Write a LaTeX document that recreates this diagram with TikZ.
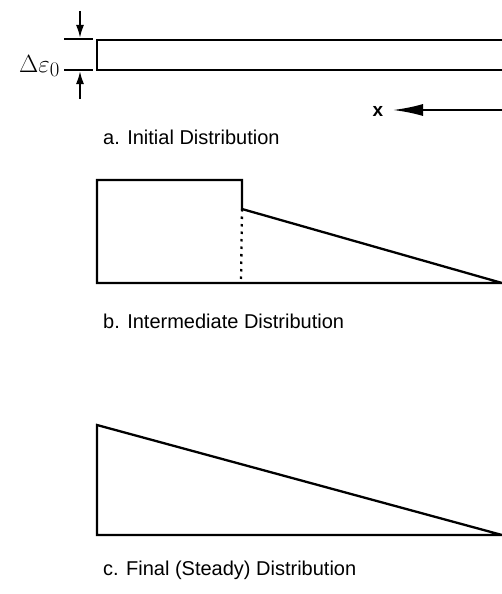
\documentclass[tikz,border=0pt]{standalone}
\usepackage{fontspec}
\setmainfont{Liberation Sans}
\usetikzlibrary{arrows.meta}
\begin{document}
\begin{tikzpicture}[x=1pt,y=-1pt,
  prof/.style={line width=2.3pt,line join=miter},
  thinln/.style={line width=1.8pt},
  dimarrow/.style={line width=2pt,-{Latex[length=13pt,width=8pt]}},
  captxt/.style={anchor=base west,font=\fontsize{20}{24}\selectfont,inner sep=0pt}]
\useasboundingbox (0,0) rectangle (502,594);
% a. initial strip
\coordinate (aTR) at (502,40);
\coordinate (aBR) at (502,70);
\draw[thinln] (aTR) -- (97,40) coordinate (aTL) -- (97,70) coordinate (aBL) -- (aBR);
% dimension
\coordinate (t1L) at (64,39); \coordinate (t1R) at (93,39);
\coordinate (t2L) at (64,70); \coordinate (t2R) at (93,70);
\draw[thinln] (t1L) -- (t1R);
\draw[thinln] (t2L) -- (t2R);
\coordinate (up0) at (80,11); \coordinate (up1) at (80,38);
\coordinate (dn0) at (80,99); \coordinate (dn1) at (80,71);
\draw[dimarrow] (up0) -- (up1);
\draw[dimarrow] (dn0) -- (dn1);
\node[inner sep=0pt,anchor=base east,font=\fontsize{29}{32}\selectfont] (deps) at (60,72) {$\Delta\varepsilon_0$};
% x arrow
\coordinate (xs) at (502,110);
\node[inner sep=0pt,font=\fontsize{19}{20}\selectfont\bfseries] (xl) at (378,111) {x};
\coordinate (xe) at (393,110);
\draw[line width=2pt,-{Latex[length=30pt,width=12pt]}] (xs) -- (xe);
\node[captxt] (la) at (103,144) {a. Initial Distribution};
% b. intermediate
\coordinate (bBL) at (97,283);
\coordinate (bTL) at (97,180);
\coordinate (bTR) at (242,180);
\coordinate (bS) at (242,209);
\coordinate (bBR) at (502,283);
\coordinate (bD) at (241,283);
\draw[prof] (bBR) -- (bBL) -- (bTL) -- (bTR) -- (bS) -- (bBR);
\draw[line width=2.3pt,dash pattern=on 2.5pt off 5pt] (bS) -- (bD);
\node[captxt] (lb) at (103,328) {b. Intermediate Distribution};
% c. final
\coordinate (cT) at (97,425);
\coordinate (cBL) at (97,535);
\coordinate (cBR) at (502,535);
\draw[prof] (cBR) -- (cBL) -- (cT) -- (cBR);
\node[captxt] (lc) at (103,575) {c. Final (Steady) Distribution};
\end{tikzpicture}
\end{document}
